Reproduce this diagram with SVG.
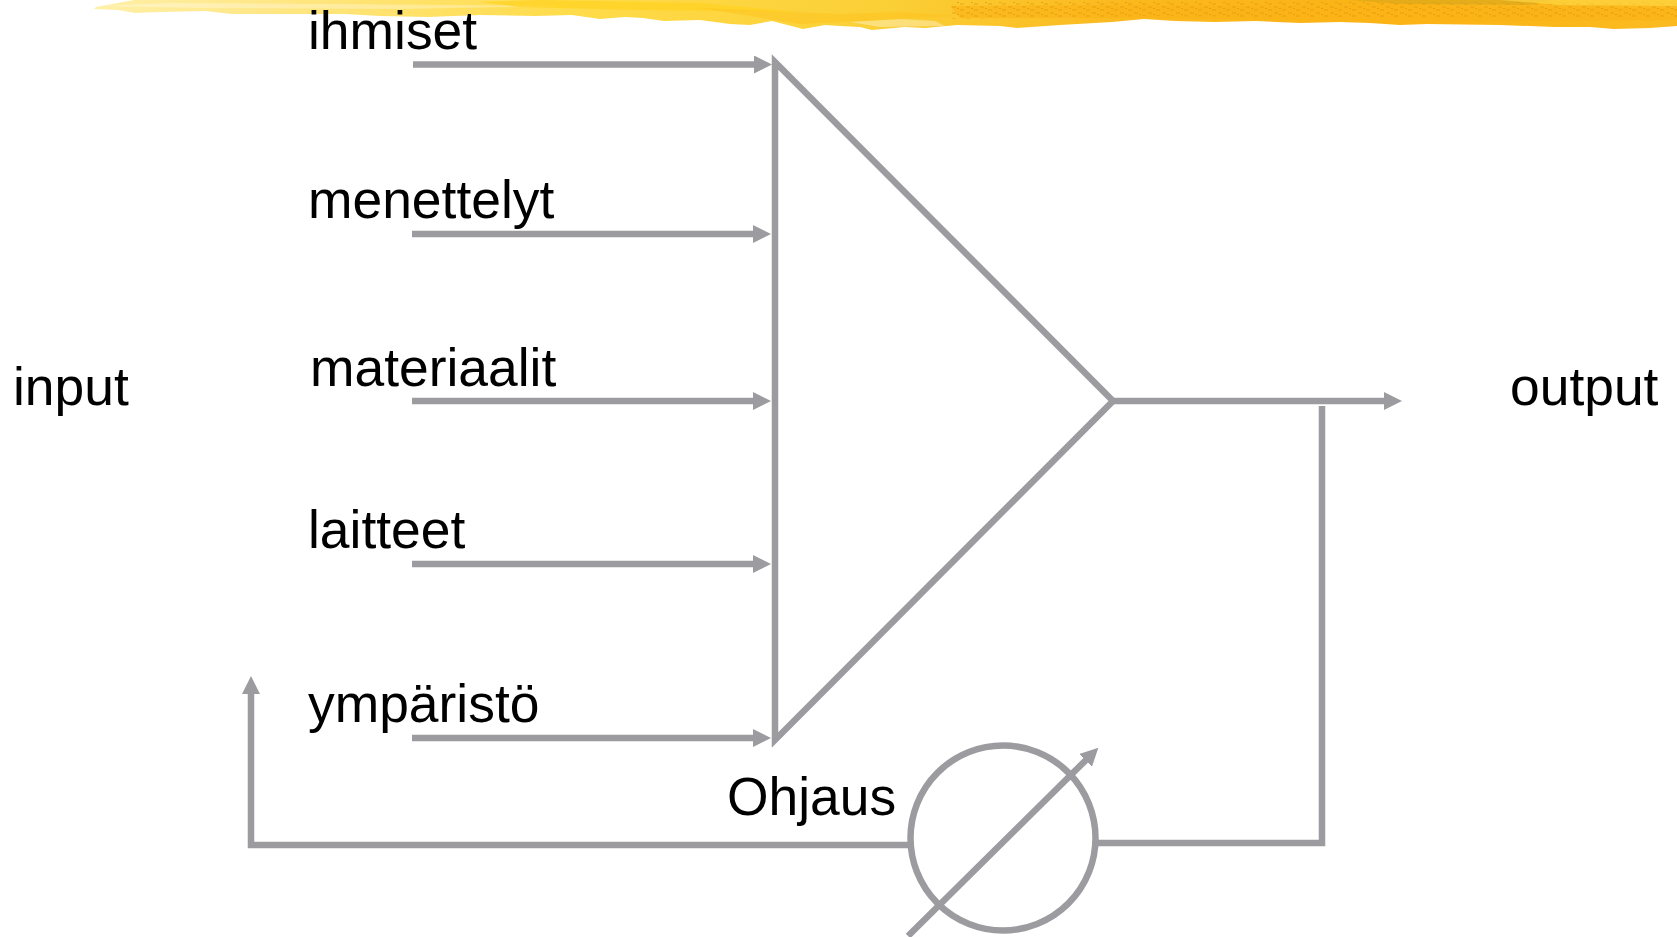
<svg xmlns="http://www.w3.org/2000/svg" width="1677" height="937" viewBox="0 0 1677 937">
<style>
.t{font-family:"Liberation Sans",Arial,sans-serif;font-size:53.400px;fill:#000}
.c{fill:none;stroke:#9c9b9f;stroke-width:6.500}
</style>
<defs>
<marker id="a" markerUnits="userSpaceOnUse" markerWidth="20" markerHeight="20" refX="2" refY="9" orient="auto"><path d="M0 0L18 9L0 18Z" fill="#9c9b9f"/></marker>
<linearGradient id="g" x1="93" x2="1677" y1="0" y2="0" gradientUnits="userSpaceOnUse">
<stop offset="0" stop-color="#fff0a8"/><stop offset=".12" stop-color="#ffe682"/><stop offset=".3" stop-color="#ffdc4a"/><stop offset=".5" stop-color="#fbcf36"/><stop offset=".65" stop-color="#fbb91e"/><stop offset=".82" stop-color="#fbb315"/><stop offset="1" stop-color="#fbbb20"/>
</linearGradient>
<pattern id="d" width="14" height="6" patternUnits="userSpaceOnUse"><path d="M0 1H4M8 4H12M5 2.500H7" stroke="#e09a10" stroke-width="1.200"/></pattern>
</defs>
<rect width="1677" height="937" fill="#fff"/>
<g id="brush">
<path fill="url(#g)" d="M134 0L96 7L94 9L118 10L135 13L160 12L205 11L232 14L268 14L345 14L380 16L428 17L480 15L535 16L572 15L600 19L625 17L643 18L664 21L700 20L730 24L750 25L772 21L803 29L825 25L840 26L860 27L872 30L905 27L925 28L957 25L1000 26L1017 28L1060 25L1112 22L1144 19L1175 21L1215 22L1256 21L1300 23L1340 22L1370 23L1400 25L1427 24L1500 25L1555 27L1590 27L1614 29L1650 28L1677 26L1677 0Z"/>
<path fill="#fff" opacity=".3" d="M100 6L170 3L330 4L560 6L400 9L200 8Z"/>
<path fill="#fff" opacity=".35" d="M850 22L900 19L935 21L945 26L880 27Z"/>
<path fill="#ffd21f" opacity=".7" d="M480 2L540 0L700 3L800 12L640 10L520 7Z"/>
<path fill="#ffc21a" opacity=".45" d="M700 8L840 14L900 12L960 16L800 24Z"/>
<path fill="#fbb315" opacity=".6" d="M950 6L1100 5L1400 7L1677 8L1677 20L1400 22L1150 18L960 18Z"/>
<path fill="url(#d)" d="M950 2H1677V18H1400L1150 16L950 19Z" opacity=".75"/>
<path fill="#c9a21e" opacity=".45" d="M1350 0L1550 0L1530 5L1400 4Z"/>
<path fill="#ffdc4a" opacity=".6" d="M1500 0H1677V6L1560 5Z"/>
</g>
<g id="connectors" class="c">
<path class="c" d="M413 64.500H756" marker-end="url(#a)"/>
<path class="c" d="M412 234H755" marker-end="url(#a)"/>
<path class="c" d="M412 401H755" marker-end="url(#a)"/>
<path class="c" d="M412 564H755" marker-end="url(#a)"/>
<path class="c" d="M412 738H755" marker-end="url(#a)"/>
<path class="c" d="M1113 401H1386" marker-end="url(#a)"/>
<path class="c" d="M1322 406V843H1098"/>
<path class="c" d="M911 845H251V692" marker-end="url(#a)"/>
<path class="c" d="M908 936L1087 759" marker-end="url(#a)"/>
</g>
<g id="triangle"><path class="c" d="M775 62L1113 401L775 740Z"/></g>
<g id="regulator"><circle class="c" cx="1003" cy="838" r="92.500"/></g>
<g id="n-ihmiset"><text class="t" x="308" y="49">ihmiset</text></g>
<g id="n-menettelyt"><text class="t" x="308" y="218">menettelyt</text></g>
<g id="n-materiaalit"><text class="t" x="310" y="386">materiaalit</text></g>
<g id="n-laitteet"><text class="t" x="308" y="548">laitteet</text></g>
<g id="n-ymparisto"><text class="t" x="308" y="722">ympäristö</text></g>
<g id="n-ohjaus"><text class="t" x="727" y="815">Ohjaus</text></g>
<g id="n-input"><text class="t" x="13" y="405">input</text></g>
<g id="n-output"><text class="t" x="1510" y="405">output</text></g>
</svg>
